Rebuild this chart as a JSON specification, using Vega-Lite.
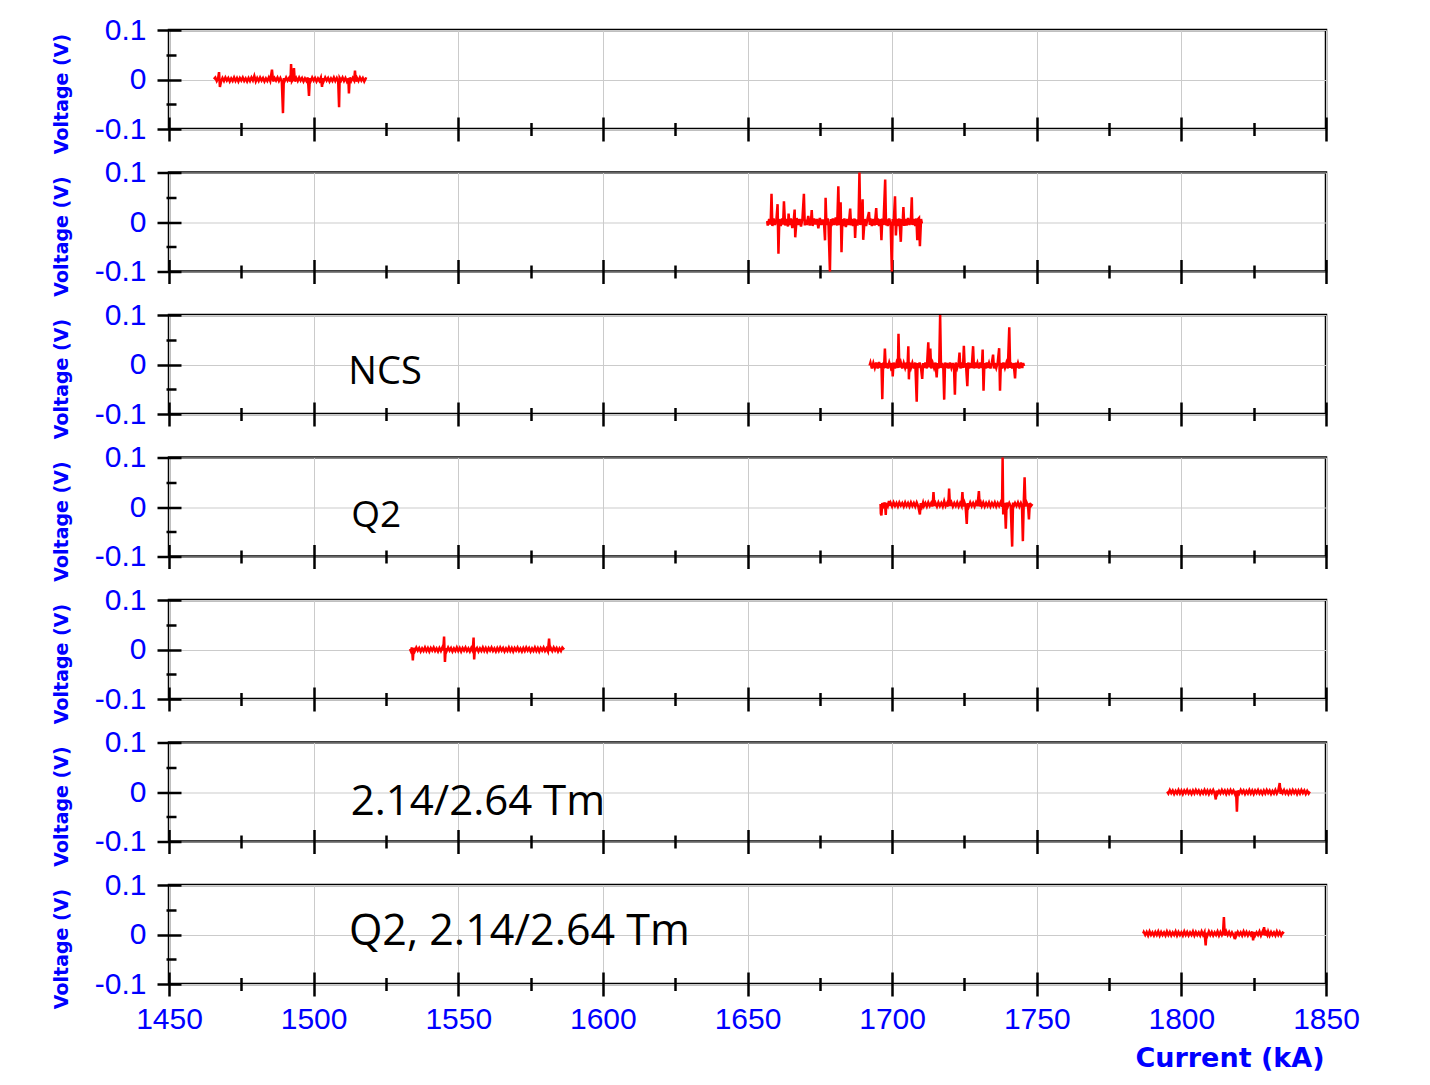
{
  "$schema": "https://vega.github.io/schema/vega-lite/v6.json",
  "background": "#ffffff",
  "padding": {"left": 51, "top": 13, "right": 20, "bottom": 10},
  "bounds": "flush",
  "spacing": 43.5,
  "config": {
    "view": {"stroke": "#000000", "strokeWidth": 2.5},
    "axis": {
      "domain": false,
      "grid": false,
      "tickColor": "#000000",
      "tickWidth": 2.5,
      "gridColor": "#cbcbcb",
      "gridWidth": 1,
      "labelFont": "Liberation Sans",
      "labelFontSize": 30,
      "labelColor": "#0000ff",
      "labelFlush": false,
      "titleColor": "#0000ff",
      "titleFont": "DejaVu Sans",
      "titleFontWeight": "bold"
    },
    "line": {"color": "#ff0000", "strokeWidth": 2.5, "clip": true},
    "text": {"font": "Open Sans", "color": "#000000", "align": "left", "baseline": "alphabetic"}
  },
  "datasets": {
    "labels": [
      {"panel": 3, "label": "NCS"},
      {"panel": 4, "label": "Q2"},
      {"panel": 6, "label": "2.14/2.64 Tm"},
      {"panel": 7, "label": "Q2, 2.14/2.64 Tm"}
    ],
    "trace": [
{"panel":1,"current":1465.5,"voltage":0.001},{"panel":1,"current":1466,"voltage":0.004},{"panel":1,"current":1466.5,"voltage":-0.003},{"panel":1,"current":1467,"voltage":0.003},{"panel":1,"current":1467.3,"voltage":0.015},{"panel":1,"current":1467.6,"voltage":-0.015},{"panel":1,"current":1468,"voltage":-0.004},{"panel":1,"current":1468.5,"voltage":0.003},{"panel":1,"current":1469,"voltage":-0.003},{"panel":1,"current":1469.5,"voltage":0.004},{"panel":1,"current":1470,"voltage":-0.002},{"panel":1,"current":1470.5,"voltage":0.003},{"panel":1,"current":1471,"voltage":-0.004},{"panel":1,"current":1471.5,"voltage":0.002},{"panel":1,"current":1472,"voltage":-0.003},{"panel":1,"current":1472.5,"voltage":0.004},{"panel":1,"current":1473,"voltage":-0.003},{"panel":1,"current":1473.5,"voltage":0.003},{"panel":1,"current":1474,"voltage":-0.004},{"panel":1,"current":1474.5,"voltage":0.003},{"panel":1,"current":1475,"voltage":-0.002},{"panel":1,"current":1475.5,"voltage":0.004},{"panel":1,"current":1476,"voltage":-0.003},{"panel":1,"current":1476.5,"voltage":0.002},{"panel":1,"current":1477,"voltage":-0.004},{"panel":1,"current":1477.5,"voltage":0.003},{"panel":1,"current":1478,"voltage":-0.003},{"panel":1,"current":1478.5,"voltage":0.004},{"panel":1,"current":1479,"voltage":-0.002},{"panel":1,"current":1479.5,"voltage":0.007},{"panel":1,"current":1480,"voltage":-0.004},{"panel":1,"current":1480.5,"voltage":0.003},{"panel":1,"current":1481,"voltage":-0.003},{"panel":1,"current":1481.5,"voltage":0.004},{"panel":1,"current":1482,"voltage":-0.002},{"panel":1,"current":1482.5,"voltage":0.003},{"panel":1,"current":1483,"voltage":-0.004},{"panel":1,"current":1483.5,"voltage":0.002},{"panel":1,"current":1484,"voltage":-0.003},{"panel":1,"current":1484.5,"voltage":0.004},{"panel":1,"current":1485,"voltage":-0.003},{"panel":1,"current":1485.6,"voltage":0.02},{"panel":1,"current":1486,"voltage":-0.004},{"panel":1,"current":1486.5,"voltage":0.003},{"panel":1,"current":1487,"voltage":-0.002},{"panel":1,"current":1487.5,"voltage":0.004},{"panel":1,"current":1488,"voltage":-0.003},{"panel":1,"current":1488.5,"voltage":0.003},{"panel":1,"current":1489,"voltage":-0.004},{"panel":1,"current":1489.4,"voltage":-0.068},{"panel":1,"current":1489.7,"voltage":0.003},{"panel":1,"current":1490,"voltage":-0.003},{"panel":1,"current":1490.5,"voltage":0.004},{"panel":1,"current":1491,"voltage":-0.002},{"panel":1,"current":1491.5,"voltage":0.003},{"panel":1,"current":1492,"voltage":-0.004},{"panel":1,"current":1492.2,"voltage":0.031},{"panel":1,"current":1492.5,"voltage":-0.003},{"panel":1,"current":1493,"voltage":0.002},{"panel":1,"current":1493.2,"voltage":0.023},{"panel":1,"current":1493.5,"voltage":-0.004},{"panel":1,"current":1494,"voltage":0.003},{"panel":1,"current":1494.5,"voltage":-0.003},{"panel":1,"current":1495,"voltage":0.004},{"panel":1,"current":1495.5,"voltage":-0.002},{"panel":1,"current":1496,"voltage":0.003},{"panel":1,"current":1496.5,"voltage":-0.004},{"panel":1,"current":1497,"voltage":0.002},{"panel":1,"current":1497.5,"voltage":-0.003},{"panel":1,"current":1498,"voltage":0.004},{"panel":1,"current":1498.4,"voltage":-0.033},{"panel":1,"current":1498.7,"voltage":0.003},{"panel":1,"current":1499,"voltage":-0.003},{"panel":1,"current":1499.5,"voltage":0.004},{"panel":1,"current":1500,"voltage":-0.002},{"panel":1,"current":1500.5,"voltage":0.003},{"panel":1,"current":1501,"voltage":-0.004},{"panel":1,"current":1501.5,"voltage":0.002},{"panel":1,"current":1502,"voltage":-0.003},{"panel":1,"current":1502.5,"voltage":0.004},{"panel":1,"current":1502.9,"voltage":-0.015},{"panel":1,"current":1503.2,"voltage":0.003},{"panel":1,"current":1503.5,"voltage":-0.003},{"panel":1,"current":1504,"voltage":0.004},{"panel":1,"current":1504.5,"voltage":-0.002},{"panel":1,"current":1505,"voltage":0.003},{"panel":1,"current":1505.5,"voltage":-0.004},{"panel":1,"current":1506,"voltage":0.002},{"panel":1,"current":1506.5,"voltage":-0.003},{"panel":1,"current":1507,"voltage":0.004},{"panel":1,"current":1507.5,"voltage":-0.003},{"panel":1,"current":1508,"voltage":0.003},{"panel":1,"current":1508.5,"voltage":-0.004},{"panel":1,"current":1508.8,"voltage":-0.056},{"panel":1,"current":1509,"voltage":0.003},{"panel":1,"current":1509.5,"voltage":-0.002},{"panel":1,"current":1510,"voltage":0.004},{"panel":1,"current":1510.5,"voltage":-0.003},{"panel":1,"current":1511,"voltage":0.003},{"panel":1,"current":1511.5,"voltage":-0.004},{"panel":1,"current":1512,"voltage":0.002},{"panel":1,"current":1512.2,"voltage":-0.028},{"panel":1,"current":1512.5,"voltage":0.004},{"panel":1,"current":1513,"voltage":-0.003},{"panel":1,"current":1513.5,"voltage":0.003},{"panel":1,"current":1514,"voltage":-0.002},{"panel":1,"current":1514.3,"voltage":0.018},{"panel":1,"current":1514.6,"voltage":-0.004},{"panel":1,"current":1515,"voltage":0.003},{"panel":1,"current":1515.5,"voltage":-0.003},{"panel":1,"current":1516,"voltage":0.004},{"panel":1,"current":1516.5,"voltage":-0.002},{"panel":1,"current":1517,"voltage":0.003},{"panel":1,"current":1517.5,"voltage":-0.004},{"panel":1,"current":1518,"voltage":0.002},{"panel":1,"current":1518.4,"voltage":0.001},

{"panel":2,"current":1656.8,"voltage":0.002},{"panel":2,"current":1657,"voltage":-0.007},{"panel":2,"current":1657.5,"voltage":0.006},{"panel":2,"current":1658,"voltage":-0.005},{"panel":2,"current":1658.3,"voltage":0.057},{"panel":2,"current":1658.6,"voltage":-0.008},{"panel":2,"current":1659,"voltage":0.007},{"panel":2,"current":1659.5,"voltage":-0.006},{"panel":2,"current":1660,"voltage":0.005},{"panel":2,"current":1660.4,"voltage":0.036},{"panel":2,"current":1660.7,"voltage":-0.064},{"panel":2,"current":1661,"voltage":0.006},{"panel":2,"current":1661.5,"voltage":-0.008},{"panel":2,"current":1662,"voltage":0.007},{"panel":2,"current":1662.3,"voltage":-0.005},{"panel":2,"current":1662.6,"voltage":0.042},{"panel":2,"current":1663,"voltage":-0.007},{"panel":2,"current":1663.5,"voltage":0.006},{"panel":2,"current":1664,"voltage":-0.009},{"panel":2,"current":1664.2,"voltage":0.017},{"panel":2,"current":1664.5,"voltage":-0.006},{"panel":2,"current":1665,"voltage":0.007},{"panel":2,"current":1665.5,"voltage":-0.012},{"panel":2,"current":1666,"voltage":0.005},{"panel":2,"current":1666.3,"voltage":0.025},{"panel":2,"current":1666.5,"voltage":-0.031},{"panel":2,"current":1667,"voltage":0.008},{"panel":2,"current":1667.5,"voltage":-0.006},{"panel":2,"current":1668,"voltage":0.006},{"panel":2,"current":1668.5,"voltage":-0.009},{"panel":2,"current":1669,"voltage":0.007},{"panel":2,"current":1669.5,"voltage":0.057},{"panel":2,"current":1669.8,"voltage":-0.007},{"panel":2,"current":1670,"voltage":0.005},{"panel":2,"current":1670.5,"voltage":-0.006},{"panel":2,"current":1671,"voltage":0.012},{"panel":2,"current":1671.5,"voltage":-0.007},{"panel":2,"current":1672,"voltage":0.006},{"panel":2,"current":1672.2,"voltage":0.024},{"panel":2,"current":1672.5,"voltage":-0.008},{"panel":2,"current":1673,"voltage":0.007},{"panel":2,"current":1673.5,"voltage":-0.005},{"panel":2,"current":1674,"voltage":0.006},{"panel":2,"current":1674.5,"voltage":-0.013},{"panel":2,"current":1675,"voltage":0.008},{"panel":2,"current":1675.5,"voltage":-0.006},{"panel":2,"current":1676,"voltage":0.005},{"panel":2,"current":1676.5,"voltage":-0.007},{"panel":2,"current":1676.8,"voltage":-0.037},{"panel":2,"current":1677,"voltage":0.049},{"panel":2,"current":1677.3,"voltage":-0.006},{"panel":2,"current":1677.7,"voltage":0.007},{"panel":2,"current":1678,"voltage":-0.005},{"panel":2,"current":1678.5,"voltage":-0.1},{"panel":2,"current":1678.8,"voltage":0.006},{"panel":2,"current":1679,"voltage":-0.008},{"panel":2,"current":1679.5,"voltage":0.007},{"panel":2,"current":1680,"voltage":-0.006},{"panel":2,"current":1680.5,"voltage":0.009},{"panel":2,"current":1681,"voltage":-0.007},{"panel":2,"current":1681.4,"voltage":0.072},{"panel":2,"current":1681.7,"voltage":-0.006},{"panel":2,"current":1682,"voltage":0.007},{"panel":2,"current":1682.2,"voltage":0.04},{"panel":2,"current":1682.5,"voltage":-0.061},{"panel":2,"current":1682.8,"voltage":0.006},{"panel":2,"current":1683,"voltage":-0.008},{"panel":2,"current":1683.5,"voltage":0.007},{"panel":2,"current":1684,"voltage":-0.01},{"panel":2,"current":1684.5,"voltage":0.006},{"panel":2,"current":1685,"voltage":-0.006},{"panel":2,"current":1685.5,"voltage":0.027},{"panel":2,"current":1685.8,"voltage":-0.007},{"panel":2,"current":1686,"voltage":0.006},{"panel":2,"current":1686.5,"voltage":-0.008},{"panel":2,"current":1687,"voltage":0.007},{"panel":2,"current":1687.2,"voltage":-0.032},{"panel":2,"current":1687.5,"voltage":0.005},{"panel":2,"current":1688,"voltage":-0.007},{"panel":2,"current":1688.4,"voltage":0.006},{"panel":2,"current":1688.7,"voltage":0.1},{"panel":2,"current":1689,"voltage":-0.006},{"panel":2,"current":1689.5,"voltage":0.008},{"panel":2,"current":1689.8,"voltage":0.046},{"panel":2,"current":1690,"voltage":-0.036},{"panel":2,"current":1690.5,"voltage":0.006},{"panel":2,"current":1691,"voltage":-0.008},{"panel":2,"current":1691.5,"voltage":0.007},{"panel":2,"current":1692,"voltage":0.02},{"panel":2,"current":1692.3,"voltage":-0.006},{"panel":2,"current":1692.5,"voltage":0.007},{"panel":2,"current":1693,"voltage":-0.008},{"panel":2,"current":1693.5,"voltage":0.006},{"panel":2,"current":1694,"voltage":-0.007},{"panel":2,"current":1694.5,"voltage":0.028},{"panel":2,"current":1694.8,"voltage":-0.006},{"panel":2,"current":1695,"voltage":0.007},{"panel":2,"current":1695.5,"voltage":-0.008},{"panel":2,"current":1696,"voltage":0.006},{"panel":2,"current":1696.3,"voltage":-0.037},{"panel":2,"current":1696.6,"voltage":0.007},{"panel":2,"current":1697,"voltage":-0.006},{"panel":2,"current":1697.6,"voltage":0.086},{"panel":2,"current":1697.9,"voltage":-0.007},{"panel":2,"current":1698,"voltage":0.006},{"panel":2,"current":1698.5,"voltage":-0.008},{"panel":2,"current":1699,"voltage":0.007},{"panel":2,"current":1699.5,"voltage":-0.006},{"panel":2,"current":1699.9,"voltage":-0.1},{"panel":2,"current":1700.2,"voltage":0.006},{"panel":2,"current":1700.5,"voltage":-0.007},{"panel":2,"current":1701,"voltage":0.052},{"panel":2,"current":1701.3,"voltage":-0.027},{"panel":2,"current":1701.6,"voltage":0.006},{"panel":2,"current":1702,"voltage":-0.008},{"panel":2,"current":1702.5,"voltage":0.007},{"panel":2,"current":1703,"voltage":-0.04},{"panel":2,"current":1703.3,"voltage":0.006},{"panel":2,"current":1703.6,"voltage":-0.007},{"panel":2,"current":1703.9,"voltage":0.03},{"panel":2,"current":1704.2,"voltage":-0.008},{"panel":2,"current":1704.5,"voltage":0.006},{"panel":2,"current":1705,"voltage":-0.007},{"panel":2,"current":1705.5,"voltage":0.008},{"panel":2,"current":1706,"voltage":-0.006},{"panel":2,"current":1706.5,"voltage":0.007},{"panel":2,"current":1706.8,"voltage":0.05},{"panel":2,"current":1707,"voltage":-0.006},{"panel":2,"current":1707.5,"voltage":0.006},{"panel":2,"current":1708,"voltage":-0.008},{"panel":2,"current":1708.4,"voltage":0.007},{"panel":2,"current":1708.7,"voltage":-0.037},{"panel":2,"current":1709,"voltage":0.006},{"panel":2,"current":1709.3,"voltage":0.008},{"panel":2,"current":1709.6,"voltage":-0.049},{"panel":2,"current":1710,"voltage":0.006},{"panel":2,"current":1710.3,"voltage":-0.003},

{"panel":3,"current":1692.2,"voltage":-0.002},{"panel":3,"current":1692.5,"voltage":0.004},{"panel":3,"current":1693,"voltage":-0.008},{"panel":3,"current":1693.5,"voltage":0.003},{"panel":3,"current":1694,"voltage":-0.007},{"panel":3,"current":1694.5,"voltage":0.004},{"panel":3,"current":1695,"voltage":-0.008},{"panel":3,"current":1695.5,"voltage":0.005},{"panel":3,"current":1696,"voltage":-0.007},{"panel":3,"current":1696.3,"voltage":0.003},{"panel":3,"current":1696.6,"voltage":-0.07},{"panel":3,"current":1696.9,"voltage":0.004},{"panel":3,"current":1697.2,"voltage":-0.008},{"panel":3,"current":1697.5,"voltage":0.032},{"panel":3,"current":1697.8,"voltage":-0.007},{"panel":3,"current":1698,"voltage":0.003},{"panel":3,"current":1698.5,"voltage":-0.008},{"panel":3,"current":1699,"voltage":0.004},{"panel":3,"current":1699.5,"voltage":-0.006},{"panel":3,"current":1700,"voltage":0.003},{"panel":3,"current":1700.2,"voltage":-0.024},{"panel":3,"current":1700.5,"voltage":0.004},{"panel":3,"current":1701,"voltage":-0.008},{"panel":3,"current":1701.5,"voltage":0.003},{"panel":3,"current":1702,"voltage":-0.007},{"panel":3,"current":1702.2,"voltage":0.062},{"panel":3,"current":1702.5,"voltage":-0.006},{"panel":3,"current":1703,"voltage":0.004},{"panel":3,"current":1703.5,"voltage":-0.008},{"panel":3,"current":1704,"voltage":0.003},{"panel":3,"current":1704.5,"voltage":-0.007},{"panel":3,"current":1705,"voltage":0.004},{"panel":3,"current":1705.3,"voltage":-0.008},{"panel":3,"current":1705.6,"voltage":0.037},{"panel":3,"current":1705.8,"voltage":-0.03},{"panel":3,"current":1706,"voltage":0.004},{"panel":3,"current":1706.5,"voltage":-0.007},{"panel":3,"current":1707,"voltage":0.003},{"panel":3,"current":1707.5,"voltage":-0.008},{"panel":3,"current":1708,"voltage":0.004},{"panel":3,"current":1708.5,"voltage":-0.075},{"panel":3,"current":1708.8,"voltage":0.003},{"panel":3,"current":1709,"voltage":-0.007},{"panel":3,"current":1709.5,"voltage":0.004},{"panel":3,"current":1710,"voltage":-0.008},{"panel":3,"current":1710.4,"voltage":-0.029},{"panel":3,"current":1710.7,"voltage":0.003},{"panel":3,"current":1711,"voltage":-0.007},{"panel":3,"current":1711.5,"voltage":0.004},{"panel":3,"current":1712,"voltage":-0.008},{"panel":3,"current":1712.5,"voltage":0.045},{"panel":3,"current":1712.8,"voltage":-0.006},{"panel":3,"current":1713.2,"voltage":0.032},{"panel":3,"current":1713.5,"voltage":-0.008},{"panel":3,"current":1714,"voltage":0.003},{"panel":3,"current":1714.5,"voltage":-0.007},{"panel":3,"current":1715,"voltage":0.004},{"panel":3,"current":1715.4,"voltage":-0.026},{"panel":3,"current":1715.7,"voltage":0.003},{"panel":3,"current":1716,"voltage":-0.008},{"panel":3,"current":1716.3,"voltage":0.004},{"panel":3,"current":1716.6,"voltage":0.1},{"panel":3,"current":1716.9,"voltage":-0.007},{"panel":3,"current":1717.3,"voltage":0.003},{"panel":3,"current":1717.7,"voltage":-0.008},{"panel":3,"current":1718,"voltage":-0.071},{"panel":3,"current":1718.3,"voltage":0.004},{"panel":3,"current":1718.6,"voltage":-0.007},{"panel":3,"current":1719,"voltage":0.003},{"panel":3,"current":1719.5,"voltage":-0.008},{"panel":3,"current":1720,"voltage":0.004},{"panel":3,"current":1720.5,"voltage":-0.007},{"panel":3,"current":1721,"voltage":0.003},{"panel":3,"current":1721.4,"voltage":-0.008},{"panel":3,"current":1721.7,"voltage":-0.061},{"panel":3,"current":1722,"voltage":0.004},{"panel":3,"current":1722.5,"voltage":-0.007},{"panel":3,"current":1723,"voltage":0.003},{"panel":3,"current":1723.3,"voltage":0.024},{"panel":3,"current":1723.6,"voltage":-0.008},{"panel":3,"current":1724,"voltage":0.004},{"panel":3,"current":1724.5,"voltage":-0.007},{"panel":3,"current":1724.8,"voltage":0.038},{"panel":3,"current":1725.1,"voltage":-0.006},{"panel":3,"current":1725.5,"voltage":0.003},{"panel":3,"current":1726,"voltage":-0.044},{"panel":3,"current":1726.3,"voltage":0.004},{"panel":3,"current":1726.6,"voltage":-0.008},{"panel":3,"current":1727,"voltage":0.003},{"panel":3,"current":1727.5,"voltage":-0.007},{"panel":3,"current":1728,"voltage":0.037},{"panel":3,"current":1728.3,"voltage":-0.008},{"panel":3,"current":1728.6,"voltage":0.004},{"panel":3,"current":1729,"voltage":-0.007},{"panel":3,"current":1729.5,"voltage":0.003},{"panel":3,"current":1730,"voltage":-0.008},{"panel":3,"current":1730.5,"voltage":0.004},{"panel":3,"current":1731,"voltage":-0.007},{"panel":3,"current":1731.3,"voltage":0.03},{"panel":3,"current":1731.6,"voltage":-0.053},{"panel":3,"current":1731.9,"voltage":0.003},{"panel":3,"current":1732.3,"voltage":-0.008},{"panel":3,"current":1732.7,"voltage":0.004},{"panel":3,"current":1733,"voltage":-0.007},{"panel":3,"current":1733.5,"voltage":0.003},{"panel":3,"current":1734,"voltage":-0.008},{"panel":3,"current":1734.5,"voltage":0.004},{"panel":3,"current":1734.9,"voltage":0.02},{"panel":3,"current":1735.2,"voltage":-0.008},{"panel":3,"current":1735.5,"voltage":0.003},{"panel":3,"current":1736,"voltage":-0.007},{"panel":3,"current":1736.5,"voltage":0.004},{"panel":3,"current":1737,"voltage":0.033},{"panel":3,"current":1737.3,"voltage":-0.053},{"panel":3,"current":1737.6,"voltage":0.003},{"panel":3,"current":1738,"voltage":-0.008},{"panel":3,"current":1738.5,"voltage":0.004},{"panel":3,"current":1739,"voltage":-0.007},{"panel":3,"current":1739.5,"voltage":0.003},{"panel":3,"current":1740,"voltage":-0.008},{"panel":3,"current":1740.5,"voltage":0.075},{"panel":3,"current":1740.8,"voltage":-0.007},{"panel":3,"current":1741,"voltage":0.004},{"panel":3,"current":1741.5,"voltage":-0.008},{"panel":3,"current":1742,"voltage":0.003},{"panel":3,"current":1742.5,"voltage":-0.028},{"panel":3,"current":1742.8,"voltage":0.004},{"panel":3,"current":1743,"voltage":-0.007},{"panel":3,"current":1743.5,"voltage":0.003},{"panel":3,"current":1744,"voltage":-0.008},{"panel":3,"current":1744.5,"voltage":0.004},{"panel":3,"current":1745,"voltage":-0.007},{"panel":3,"current":1745.3,"voltage":0.003},{"panel":3,"current":1745.6,"voltage":-0.003},

{"panel":4,"current":1696,"voltage":0.006},{"panel":4,"current":1696.1,"voltage":-0.013},{"panel":4,"current":1696.3,"voltage":-0.017},{"panel":4,"current":1696.6,"voltage":0.008},{"panel":4,"current":1697,"voltage":0.002},{"panel":4,"current":1697.5,"voltage":0.009},{"panel":4,"current":1697.8,"voltage":-0.016},{"panel":4,"current":1698,"voltage":0.008},{"panel":4,"current":1698.5,"voltage":0.002},{"panel":4,"current":1698.9,"voltage":0.012},{"panel":4,"current":1699.2,"voltage":0.002},{"panel":4,"current":1699.5,"voltage":0.008},{"panel":4,"current":1700,"voltage":0.001},{"panel":4,"current":1700.5,"voltage":0.009},{"panel":4,"current":1701,"voltage":0.002},{"panel":4,"current":1701.5,"voltage":0.008},{"panel":4,"current":1702,"voltage":0.001},{"panel":4,"current":1702.5,"voltage":0.009},{"panel":4,"current":1703,"voltage":0.003},{"panel":4,"current":1703.5,"voltage":0.008},{"panel":4,"current":1704,"voltage":0.001},{"panel":4,"current":1704.5,"voltage":0.009},{"panel":4,"current":1705,"voltage":0.002},{"panel":4,"current":1705.5,"voltage":0.008},{"panel":4,"current":1706,"voltage":0.001},{"panel":4,"current":1706.5,"voltage":0.009},{"panel":4,"current":1707,"voltage":0.002},{"panel":4,"current":1707.5,"voltage":0.008},{"panel":4,"current":1708,"voltage":0.001},{"panel":4,"current":1708.5,"voltage":0.009},{"panel":4,"current":1709,"voltage":0.002},{"panel":4,"current":1709.6,"voltage":-0.015},{"panel":4,"current":1709.9,"voltage":0.008},{"panel":4,"current":1710.3,"voltage":0.001},{"panel":4,"current":1710.7,"voltage":0.009},{"panel":4,"current":1711,"voltage":0.002},{"panel":4,"current":1711.5,"voltage":0.008},{"panel":4,"current":1712,"voltage":0.001},{"panel":4,"current":1712.5,"voltage":0.009},{"panel":4,"current":1713,"voltage":0.002},{"panel":4,"current":1713.5,"voltage":0.008},{"panel":4,"current":1714,"voltage":0.001},{"panel":4,"current":1714.3,"voltage":0.03},{"panel":4,"current":1714.6,"voltage":0.002},{"panel":4,"current":1715,"voltage":0.008},{"panel":4,"current":1715.5,"voltage":0.001},{"panel":4,"current":1716,"voltage":0.009},{"panel":4,"current":1716.5,"voltage":0.002},{"panel":4,"current":1717,"voltage":0.008},{"panel":4,"current":1717.5,"voltage":0.001},{"panel":4,"current":1718,"voltage":0.012},{"panel":4,"current":1718.5,"voltage":0.002},{"panel":4,"current":1719,"voltage":0.008},{"panel":4,"current":1719.4,"voltage":0.001},{"panel":4,"current":1719.7,"voltage":0.037},{"panel":4,"current":1720,"voltage":0.002},{"panel":4,"current":1720.5,"voltage":0.009},{"panel":4,"current":1721,"voltage":0.001},{"panel":4,"current":1721.5,"voltage":0.008},{"panel":4,"current":1722,"voltage":0.002},{"panel":4,"current":1722.5,"voltage":0.009},{"panel":4,"current":1723,"voltage":0.001},{"panel":4,"current":1723.5,"voltage":0.008},{"panel":4,"current":1724,"voltage":0.002},{"panel":4,"current":1724.3,"voltage":0.03},{"panel":4,"current":1724.6,"voltage":0.001},{"panel":4,"current":1725,"voltage":0.009},{"panel":4,"current":1725.4,"voltage":0.002},{"panel":4,"current":1725.8,"voltage":-0.034},{"panel":4,"current":1726.1,"voltage":0.008},{"panel":4,"current":1726.5,"voltage":0.001},{"panel":4,"current":1727,"voltage":0.009},{"panel":4,"current":1727.5,"voltage":0.002},{"panel":4,"current":1728,"voltage":0.008},{"panel":4,"current":1728.5,"voltage":0.001},{"panel":4,"current":1729,"voltage":0.009},{"panel":4,"current":1729.5,"voltage":0.002},{"panel":4,"current":1730,"voltage":0.032},{"panel":4,"current":1730.3,"voltage":0.001},{"panel":4,"current":1730.7,"voltage":0.008},{"panel":4,"current":1731,"voltage":0.002},{"panel":4,"current":1731.5,"voltage":0.009},{"panel":4,"current":1732,"voltage":0.001},{"panel":4,"current":1732.5,"voltage":0.008},{"panel":4,"current":1733,"voltage":0.002},{"panel":4,"current":1733.5,"voltage":0.009},{"panel":4,"current":1734,"voltage":0.001},{"panel":4,"current":1734.5,"voltage":0.008},{"panel":4,"current":1735,"voltage":0.002},{"panel":4,"current":1735.5,"voltage":0.009},{"panel":4,"current":1736,"voltage":0.001},{"panel":4,"current":1736.5,"voltage":0.008},{"panel":4,"current":1737,"voltage":0.002},{"panel":4,"current":1737.5,"voltage":0.009},{"panel":4,"current":1738,"voltage":0.001},{"panel":4,"current":1738.2,"voltage":0.1},{"panel":4,"current":1738.4,"voltage":-0.015},{"panel":4,"current":1738.7,"voltage":0.008},{"panel":4,"current":1739,"voltage":0.002},{"panel":4,"current":1739.3,"voltage":-0.044},{"panel":4,"current":1739.6,"voltage":0.009},{"panel":4,"current":1740,"voltage":0.001},{"panel":4,"current":1740.5,"voltage":0.008},{"panel":4,"current":1741,"voltage":0.002},{"panel":4,"current":1741.5,"voltage":-0.08},{"panel":4,"current":1741.8,"voltage":0.009},{"panel":4,"current":1742,"voltage":0.001},{"panel":4,"current":1742.5,"voltage":0.008},{"panel":4,"current":1743,"voltage":0.002},{"panel":4,"current":1743.5,"voltage":0.009},{"panel":4,"current":1744,"voltage":0.001},{"panel":4,"current":1744.5,"voltage":0.008},{"panel":4,"current":1744.9,"voltage":0.002},{"panel":4,"current":1745.2,"voltage":-0.069},{"panel":4,"current":1745.5,"voltage":0.008},{"panel":4,"current":1745.8,"voltage":0.06},{"panel":4,"current":1746.1,"voltage":0.001},{"panel":4,"current":1746.5,"voltage":0.009},{"panel":4,"current":1747,"voltage":0.002},{"panel":4,"current":1747.3,"voltage":-0.025},{"panel":4,"current":1747.6,"voltage":0.008},{"panel":4,"current":1748,"voltage":0.002},{"panel":4,"current":1748.5,"voltage":0.006},

{"panel":5,"current":1533.3,"voltage":0.001},{"panel":5,"current":1533.6,"voltage":-0.003},{"panel":5,"current":1534,"voltage":0.004},{"panel":5,"current":1534.3,"voltage":-0.022},{"panel":5,"current":1534.6,"voltage":0.003},{"panel":5,"current":1535,"voltage":-0.003},{"panel":5,"current":1535.5,"voltage":0.004},{"panel":5,"current":1536,"voltage":-0.002},{"panel":5,"current":1536.5,"voltage":0.003},{"panel":5,"current":1537,"voltage":-0.004},{"panel":5,"current":1537.5,"voltage":0.002},{"panel":5,"current":1538,"voltage":-0.003},{"panel":5,"current":1538.5,"voltage":0.004},{"panel":5,"current":1539,"voltage":-0.003},{"panel":5,"current":1539.5,"voltage":0.003},{"panel":5,"current":1540,"voltage":-0.004},{"panel":5,"current":1540.5,"voltage":0.003},{"panel":5,"current":1541,"voltage":-0.002},{"panel":5,"current":1541.5,"voltage":0.004},{"panel":5,"current":1542,"voltage":-0.003},{"panel":5,"current":1542.5,"voltage":0.002},{"panel":5,"current":1543,"voltage":-0.004},{"panel":5,"current":1543.5,"voltage":0.003},{"panel":5,"current":1544,"voltage":-0.003},{"panel":5,"current":1544.5,"voltage":0.004},{"panel":5,"current":1544.8,"voltage":-0.002},{"panel":5,"current":1545.1,"voltage":0.026},{"panel":5,"current":1545.4,"voltage":-0.025},{"panel":5,"current":1545.7,"voltage":0.003},{"panel":5,"current":1546,"voltage":-0.003},{"panel":5,"current":1546.5,"voltage":0.004},{"panel":5,"current":1547,"voltage":-0.002},{"panel":5,"current":1547.5,"voltage":0.003},{"panel":5,"current":1548,"voltage":-0.004},{"panel":5,"current":1548.5,"voltage":0.002},{"panel":5,"current":1549,"voltage":-0.003},{"panel":5,"current":1549.5,"voltage":0.004},{"panel":5,"current":1550,"voltage":-0.003},{"panel":5,"current":1550.5,"voltage":0.003},{"panel":5,"current":1551,"voltage":-0.004},{"panel":5,"current":1551.5,"voltage":0.003},{"panel":5,"current":1552,"voltage":-0.002},{"panel":5,"current":1552.5,"voltage":0.004},{"panel":5,"current":1553,"voltage":-0.003},{"panel":5,"current":1553.5,"voltage":0.002},{"panel":5,"current":1554,"voltage":-0.004},{"panel":5,"current":1554.5,"voltage":0.003},{"panel":5,"current":1555,"voltage":-0.003},{"panel":5,"current":1555.3,"voltage":0.024},{"panel":5,"current":1555.5,"voltage":-0.02},{"panel":5,"current":1555.8,"voltage":0.004},{"panel":5,"current":1556,"voltage":-0.002},{"panel":5,"current":1556.5,"voltage":0.003},{"panel":5,"current":1557,"voltage":-0.004},{"panel":5,"current":1557.5,"voltage":0.002},{"panel":5,"current":1558,"voltage":-0.003},{"panel":5,"current":1558.5,"voltage":0.004},{"panel":5,"current":1559,"voltage":-0.003},{"panel":5,"current":1559.5,"voltage":0.003},{"panel":5,"current":1560,"voltage":-0.004},{"panel":5,"current":1560.5,"voltage":0.003},{"panel":5,"current":1561,"voltage":-0.002},{"panel":5,"current":1561.5,"voltage":0.004},{"panel":5,"current":1562,"voltage":-0.003},{"panel":5,"current":1562.5,"voltage":0.002},{"panel":5,"current":1563,"voltage":-0.004},{"panel":5,"current":1563.5,"voltage":0.003},{"panel":5,"current":1564,"voltage":-0.003},{"panel":5,"current":1564.5,"voltage":0.004},{"panel":5,"current":1565,"voltage":-0.002},{"panel":5,"current":1565.5,"voltage":0.003},{"panel":5,"current":1566,"voltage":-0.004},{"panel":5,"current":1566.5,"voltage":0.002},{"panel":5,"current":1567,"voltage":-0.003},{"panel":5,"current":1567.5,"voltage":0.004},{"panel":5,"current":1568,"voltage":-0.003},{"panel":5,"current":1568.5,"voltage":0.003},{"panel":5,"current":1569,"voltage":-0.004},{"panel":5,"current":1569.5,"voltage":0.003},{"panel":5,"current":1570,"voltage":-0.002},{"panel":5,"current":1570.5,"voltage":0.004},{"panel":5,"current":1571,"voltage":-0.003},{"panel":5,"current":1571.5,"voltage":0.002},{"panel":5,"current":1572,"voltage":-0.004},{"panel":5,"current":1572.5,"voltage":0.003},{"panel":5,"current":1573,"voltage":-0.003},{"panel":5,"current":1573.5,"voltage":0.004},{"panel":5,"current":1574,"voltage":-0.002},{"panel":5,"current":1574.5,"voltage":0.003},{"panel":5,"current":1575,"voltage":-0.004},{"panel":5,"current":1575.5,"voltage":0.002},{"panel":5,"current":1576,"voltage":-0.003},{"panel":5,"current":1576.5,"voltage":0.004},{"panel":5,"current":1577,"voltage":-0.003},{"panel":5,"current":1577.5,"voltage":0.003},{"panel":5,"current":1578,"voltage":-0.004},{"panel":5,"current":1578.5,"voltage":0.003},{"panel":5,"current":1579,"voltage":-0.002},{"panel":5,"current":1579.5,"voltage":0.004},{"panel":5,"current":1580,"voltage":-0.003},{"panel":5,"current":1580.5,"voltage":0.002},{"panel":5,"current":1581,"voltage":-0.004},{"panel":5,"current":1581.4,"voltage":0.022},{"panel":5,"current":1581.7,"voltage":-0.003},{"panel":5,"current":1582,"voltage":0.003},{"panel":5,"current":1582.5,"voltage":-0.003},{"panel":5,"current":1583,"voltage":0.004},{"panel":5,"current":1583.5,"voltage":-0.002},{"panel":5,"current":1584,"voltage":0.003},{"panel":5,"current":1584.5,"voltage":-0.004},{"panel":5,"current":1585,"voltage":0.002},{"panel":5,"current":1585.5,"voltage":-0.003},{"panel":5,"current":1586,"voltage":0.004},{"panel":5,"current":1586.6,"voltage":0.0},

{"panel":6,"current":1795.1,"voltage":0.001},{"panel":6,"current":1795.5,"voltage":-0.003},{"panel":6,"current":1796,"voltage":0.004},{"panel":6,"current":1796.5,"voltage":-0.002},{"panel":6,"current":1797,"voltage":0.003},{"panel":6,"current":1797.5,"voltage":-0.004},{"panel":6,"current":1798,"voltage":0.002},{"panel":6,"current":1798.5,"voltage":-0.003},{"panel":6,"current":1799,"voltage":0.004},{"panel":6,"current":1799.5,"voltage":-0.003},{"panel":6,"current":1800,"voltage":0.003},{"panel":6,"current":1800.5,"voltage":-0.004},{"panel":6,"current":1801,"voltage":0.003},{"panel":6,"current":1801.5,"voltage":-0.002},{"panel":6,"current":1802,"voltage":0.004},{"panel":6,"current":1802.5,"voltage":-0.003},{"panel":6,"current":1803,"voltage":0.002},{"panel":6,"current":1803.5,"voltage":-0.004},{"panel":6,"current":1804,"voltage":0.003},{"panel":6,"current":1804.5,"voltage":-0.003},{"panel":6,"current":1805,"voltage":0.004},{"panel":6,"current":1805.5,"voltage":-0.002},{"panel":6,"current":1806,"voltage":0.003},{"panel":6,"current":1806.5,"voltage":-0.004},{"panel":6,"current":1807,"voltage":0.002},{"panel":6,"current":1807.5,"voltage":-0.003},{"panel":6,"current":1808,"voltage":0.004},{"panel":6,"current":1808.5,"voltage":-0.003},{"panel":6,"current":1809,"voltage":0.003},{"panel":6,"current":1809.5,"voltage":-0.004},{"panel":6,"current":1810,"voltage":0.003},{"panel":6,"current":1810.5,"voltage":-0.002},{"panel":6,"current":1811,"voltage":0.004},{"panel":6,"current":1811.5,"voltage":-0.003},{"panel":6,"current":1811.9,"voltage":-0.015},{"panel":6,"current":1812.2,"voltage":0.003},{"panel":6,"current":1812.5,"voltage":-0.004},{"panel":6,"current":1813,"voltage":0.002},{"panel":6,"current":1813.5,"voltage":-0.003},{"panel":6,"current":1814,"voltage":0.004},{"panel":6,"current":1814.5,"voltage":-0.002},{"panel":6,"current":1815,"voltage":0.003},{"panel":6,"current":1815.5,"voltage":-0.004},{"panel":6,"current":1816,"voltage":0.003},{"panel":6,"current":1816.5,"voltage":-0.003},{"panel":6,"current":1817,"voltage":0.004},{"panel":6,"current":1817.5,"voltage":-0.002},{"panel":6,"current":1818,"voltage":0.003},{"panel":6,"current":1818.5,"voltage":-0.004},{"panel":6,"current":1818.9,"voltage":0.002},{"panel":6,"current":1819.2,"voltage":-0.04},{"panel":6,"current":1819.5,"voltage":0.003},{"panel":6,"current":1820,"voltage":-0.003},{"panel":6,"current":1820.5,"voltage":0.004},{"panel":6,"current":1821,"voltage":-0.002},{"panel":6,"current":1821.5,"voltage":0.003},{"panel":6,"current":1822,"voltage":-0.004},{"panel":6,"current":1822.5,"voltage":0.002},{"panel":6,"current":1823,"voltage":-0.003},{"panel":6,"current":1823.5,"voltage":0.004},{"panel":6,"current":1824,"voltage":-0.003},{"panel":6,"current":1824.5,"voltage":0.003},{"panel":6,"current":1825,"voltage":-0.004},{"panel":6,"current":1825.5,"voltage":0.003},{"panel":6,"current":1826,"voltage":-0.002},{"panel":6,"current":1826.5,"voltage":0.004},{"panel":6,"current":1827,"voltage":-0.003},{"panel":6,"current":1827.5,"voltage":0.002},{"panel":6,"current":1828,"voltage":-0.004},{"panel":6,"current":1828.5,"voltage":0.003},{"panel":6,"current":1829,"voltage":-0.003},{"panel":6,"current":1829.5,"voltage":0.004},{"panel":6,"current":1830,"voltage":-0.002},{"panel":6,"current":1830.5,"voltage":0.003},{"panel":6,"current":1831,"voltage":-0.004},{"panel":6,"current":1831.5,"voltage":0.002},{"panel":6,"current":1832,"voltage":-0.003},{"panel":6,"current":1832.5,"voltage":0.004},{"panel":6,"current":1833,"voltage":-0.003},{"panel":6,"current":1833.5,"voltage":0.003},{"panel":6,"current":1834,"voltage":0.018},{"panel":6,"current":1834.3,"voltage":-0.004},{"panel":6,"current":1834.6,"voltage":0.003},{"panel":6,"current":1835,"voltage":-0.002},{"panel":6,"current":1835.5,"voltage":0.004},{"panel":6,"current":1836,"voltage":-0.003},{"panel":6,"current":1836.5,"voltage":0.002},{"panel":6,"current":1837,"voltage":-0.004},{"panel":6,"current":1837.5,"voltage":0.003},{"panel":6,"current":1838,"voltage":-0.003},{"panel":6,"current":1838.5,"voltage":0.004},{"panel":6,"current":1839,"voltage":-0.002},{"panel":6,"current":1839.5,"voltage":0.003},{"panel":6,"current":1840,"voltage":-0.004},{"panel":6,"current":1840.5,"voltage":0.003},{"panel":6,"current":1841,"voltage":-0.003},{"panel":6,"current":1841.5,"voltage":0.004},{"panel":6,"current":1842,"voltage":-0.002},{"panel":6,"current":1842.5,"voltage":0.003},{"panel":6,"current":1843,"voltage":-0.004},{"panel":6,"current":1843.5,"voltage":0.002},{"panel":6,"current":1844,"voltage":-0.003},{"panel":6,"current":1844.4,"voltage":0.001},

{"panel":7,"current":1786.8,"voltage":0.002},{"panel":7,"current":1787,"voltage":0.005},{"panel":7,"current":1787.5,"voltage":-0.001},{"panel":7,"current":1788,"voltage":0.005},{"panel":7,"current":1788.5,"voltage":-0.002},{"panel":7,"current":1789,"voltage":0.006},{"panel":7,"current":1789.5,"voltage":-0.001},{"panel":7,"current":1790,"voltage":0.004},{"panel":7,"current":1790.5,"voltage":-0.002},{"panel":7,"current":1791,"voltage":0.005},{"panel":7,"current":1791.5,"voltage":-0.001},{"panel":7,"current":1792,"voltage":0.006},{"panel":7,"current":1792.5,"voltage":-0.002},{"panel":7,"current":1793,"voltage":0.005},{"panel":7,"current":1793.5,"voltage":-0.001},{"panel":7,"current":1794,"voltage":0.004},{"panel":7,"current":1794.5,"voltage":-0.002},{"panel":7,"current":1795,"voltage":0.006},{"panel":7,"current":1795.5,"voltage":-0.001},{"panel":7,"current":1796,"voltage":0.005},{"panel":7,"current":1796.5,"voltage":-0.002},{"panel":7,"current":1797,"voltage":0.004},{"panel":7,"current":1797.5,"voltage":-0.001},{"panel":7,"current":1798,"voltage":0.006},{"panel":7,"current":1798.5,"voltage":-0.002},{"panel":7,"current":1799,"voltage":0.005},{"panel":7,"current":1799.5,"voltage":-0.001},{"panel":7,"current":1800,"voltage":0.004},{"panel":7,"current":1800.5,"voltage":-0.002},{"panel":7,"current":1801,"voltage":0.006},{"panel":7,"current":1801.5,"voltage":-0.001},{"panel":7,"current":1802,"voltage":0.005},{"panel":7,"current":1802.5,"voltage":-0.002},{"panel":7,"current":1803,"voltage":0.004},{"panel":7,"current":1803.5,"voltage":-0.001},{"panel":7,"current":1804,"voltage":0.006},{"panel":7,"current":1804.5,"voltage":-0.002},{"panel":7,"current":1805,"voltage":0.005},{"panel":7,"current":1805.5,"voltage":-0.001},{"panel":7,"current":1806,"voltage":0.004},{"panel":7,"current":1806.5,"voltage":-0.002},{"panel":7,"current":1807,"voltage":0.006},{"panel":7,"current":1807.5,"voltage":-0.001},{"panel":7,"current":1808,"voltage":0.005},{"panel":7,"current":1808.4,"voltage":-0.022},{"panel":7,"current":1808.7,"voltage":0.004},{"panel":7,"current":1809,"voltage":-0.002},{"panel":7,"current":1809.5,"voltage":0.006},{"panel":7,"current":1810,"voltage":-0.001},{"panel":7,"current":1810.5,"voltage":0.005},{"panel":7,"current":1811,"voltage":-0.002},{"panel":7,"current":1811.5,"voltage":0.004},{"panel":7,"current":1812,"voltage":-0.001},{"panel":7,"current":1812.5,"voltage":0.006},{"panel":7,"current":1813,"voltage":-0.002},{"panel":7,"current":1813.5,"voltage":0.005},{"panel":7,"current":1814,"voltage":-0.001},{"panel":7,"current":1814.4,"voltage":0.004},{"panel":7,"current":1814.7,"voltage":0.035},{"panel":7,"current":1815,"voltage":-0.002},{"panel":7,"current":1815.5,"voltage":0.006},{"panel":7,"current":1816,"voltage":-0.001},{"panel":7,"current":1816.5,"voltage":0.005},{"panel":7,"current":1817,"voltage":-0.002},{"panel":7,"current":1817.5,"voltage":0.004},{"panel":7,"current":1818,"voltage":-0.001},{"panel":7,"current":1818.5,"voltage":-0.009},{"panel":7,"current":1818.8,"voltage":0.006},{"panel":7,"current":1819,"voltage":-0.002},{"panel":7,"current":1819.5,"voltage":0.005},{"panel":7,"current":1820,"voltage":-0.001},{"panel":7,"current":1820.5,"voltage":0.004},{"panel":7,"current":1821,"voltage":-0.002},{"panel":7,"current":1821.5,"voltage":0.006},{"panel":7,"current":1822,"voltage":-0.001},{"panel":7,"current":1822.5,"voltage":0.005},{"panel":7,"current":1823,"voltage":-0.002},{"panel":7,"current":1823.5,"voltage":0.004},{"panel":7,"current":1824,"voltage":-0.001},{"panel":7,"current":1824.5,"voltage":0.006},{"panel":7,"current":1824.8,"voltage":-0.012},{"panel":7,"current":1825.1,"voltage":0.005},{"panel":7,"current":1825.5,"voltage":-0.002},{"panel":7,"current":1826,"voltage":0.004},{"panel":7,"current":1826.5,"voltage":-0.001},{"panel":7,"current":1827,"voltage":0.006},{"panel":7,"current":1827.5,"voltage":-0.002},{"panel":7,"current":1828,"voltage":0.005},{"panel":7,"current":1828.3,"voltage":-0.001},{"panel":7,"current":1828.6,"voltage":0.015},{"panel":7,"current":1828.9,"voltage":-0.002},{"panel":7,"current":1829.3,"voltage":0.004},{"panel":7,"current":1829.7,"voltage":-0.001},{"panel":7,"current":1830,"voltage":0.006},{"panel":7,"current":1830.5,"voltage":-0.002},{"panel":7,"current":1831,"voltage":0.005},{"panel":7,"current":1831.5,"voltage":-0.001},{"panel":7,"current":1832,"voltage":0.004},{"panel":7,"current":1832.5,"voltage":-0.002},{"panel":7,"current":1833,"voltage":0.006},{"panel":7,"current":1833.5,"voltage":-0.001},{"panel":7,"current":1834,"voltage":0.005},{"panel":7,"current":1834.5,"voltage":-0.002},{"panel":7,"current":1835,"voltage":0.004},{"panel":7,"current":1835.5,"voltage":0.002}
    ]
  },
  "vconcat": [
    {
      "width": 1157, "height": 99,
      "layer": [
        {
          "data": {"name": "trace"},
          "transform": [{"filter": "datum.panel === 1"}],
          "mark": {"type": "line"},
          "encoding": {
            "x": {"field": "current", "type": "quantitative", "scale": {"domain": [1450, 1850], "nice": false},
                  "axis": {"values": [1450, 1500, 1550, 1600, 1650, 1700, 1750, 1800, 1850], "offset": -12, "tickSize": 24, "grid": true, "labels": false, "title": null}},
            "y": {"field": "voltage", "type": "quantitative", "scale": {"domain": [-0.1, 0.1], "nice": false},
                  "axis": {"values": [-0.1, 0, 0.1], "offset": -12, "tickSize": 24, "grid": true, "labelPadding": 11, "format": ".1~f", "labelExpr": "replace(datum.label, '\u2212', '-')",
                           "title": "Voltage (V)", "titleFontSize": 19, "titleX": -119.5, "titleY": 63.5, "titleAngle": -90, "titleAlign": "center", "titleBaseline": "middle"}}
          }
        },
        {
          "data": {"name": "labels"},
          "transform": [{"filter": "datum.panel === 1"}],
          "mark": {"type": "text", "fontSize": 38},
          "encoding": {
            "x": {"datum": 1512, "type": "quantitative", "scale": {"domain": [1450, 1850], "nice": false},
                  "axis": {"orient": "bottom", "values": [1475, 1525, 1575, 1625, 1675, 1725, 1775, 1825], "offset": -6.5, "tickSize": 13, "labels": false, "title": null}},
            "y": {"datum": 0, "type": "quantitative", "scale": {"domain": [-0.1, 0.1], "nice": false},
                  "axis": {"orient": "left", "values": [-0.05, 0.05], "offset": -7, "tickSize": 10, "labels": false, "title": null}},
            "text": {"field": "label"}
          }
        }
      ],
      "resolve": {"axis": {"x": "independent", "y": "independent"}}
    },
    {
      "width": 1157, "height": 99,
      "layer": [
        {
          "data": {"name": "trace"},
          "transform": [{"filter": "datum.panel === 2"}],
          "mark": {"type": "line"},
          "encoding": {
            "x": {"field": "current", "type": "quantitative", "scale": {"domain": [1450, 1850], "nice": false},
                  "axis": {"values": [1450, 1500, 1550, 1600, 1650, 1700, 1750, 1800, 1850], "offset": -12, "tickSize": 24, "grid": true, "labels": false, "title": null}},
            "y": {"field": "voltage", "type": "quantitative", "scale": {"domain": [-0.1, 0.1], "nice": false},
                  "axis": {"values": [-0.1, 0, 0.1], "offset": -12, "tickSize": 24, "grid": true, "labelPadding": 11, "format": ".1~f", "labelExpr": "replace(datum.label, '\u2212', '-')",
                           "title": "Voltage (V)", "titleFontSize": 19, "titleX": -119.5, "titleY": 63.5, "titleAngle": -90, "titleAlign": "center", "titleBaseline": "middle"}}
          }
        },
        {
          "data": {"name": "labels"},
          "transform": [{"filter": "datum.panel === 2"}],
          "mark": {"type": "text", "fontSize": 38},
          "encoding": {
            "x": {"datum": 1512, "type": "quantitative", "scale": {"domain": [1450, 1850], "nice": false},
                  "axis": {"orient": "bottom", "values": [1475, 1525, 1575, 1625, 1675, 1725, 1775, 1825], "offset": -6.5, "tickSize": 13, "labels": false, "title": null}},
            "y": {"datum": 0, "type": "quantitative", "scale": {"domain": [-0.1, 0.1], "nice": false},
                  "axis": {"orient": "left", "values": [-0.05, 0.05], "offset": -7, "tickSize": 10, "labels": false, "title": null}},
            "text": {"field": "label"}
          }
        }
      ],
      "resolve": {"axis": {"x": "independent", "y": "independent"}}
    },
    {
      "width": 1157, "height": 99,
      "layer": [
        {
          "data": {"name": "trace"},
          "transform": [{"filter": "datum.panel === 3"}],
          "mark": {"type": "line"},
          "encoding": {
            "x": {"field": "current", "type": "quantitative", "scale": {"domain": [1450, 1850], "nice": false},
                  "axis": {"values": [1450, 1500, 1550, 1600, 1650, 1700, 1750, 1800, 1850], "offset": -12, "tickSize": 24, "grid": true, "labels": false, "title": null}},
            "y": {"field": "voltage", "type": "quantitative", "scale": {"domain": [-0.1, 0.1], "nice": false},
                  "axis": {"values": [-0.1, 0, 0.1], "offset": -12, "tickSize": 24, "grid": true, "labelPadding": 11, "format": ".1~f", "labelExpr": "replace(datum.label, '\u2212', '-')",
                           "title": "Voltage (V)", "titleFontSize": 19, "titleX": -119.5, "titleY": 63.5, "titleAngle": -90, "titleAlign": "center", "titleBaseline": "middle"}}
          }
        },
        {
          "data": {"name": "labels"},
          "transform": [{"filter": "datum.panel === 3"}],
          "mark": {"type": "text", "fontSize": 38},
          "encoding": {
            "x": {"datum": 1512, "type": "quantitative", "scale": {"domain": [1450, 1850], "nice": false},
                  "axis": {"orient": "bottom", "values": [1475, 1525, 1575, 1625, 1675, 1725, 1775, 1825], "offset": -6.5, "tickSize": 13, "labels": false, "title": null}},
            "y": {"datum": -0.039, "type": "quantitative", "scale": {"domain": [-0.1, 0.1], "nice": false},
                  "axis": {"orient": "left", "values": [-0.05, 0.05], "offset": -7, "tickSize": 10, "labels": false, "title": null}},
            "text": {"field": "label"}
          }
        }
      ],
      "resolve": {"axis": {"x": "independent", "y": "independent"}}
    },
    {
      "width": 1157, "height": 99,
      "layer": [
        {
          "data": {"name": "trace"},
          "transform": [{"filter": "datum.panel === 4"}],
          "mark": {"type": "line"},
          "encoding": {
            "x": {"field": "current", "type": "quantitative", "scale": {"domain": [1450, 1850], "nice": false},
                  "axis": {"values": [1450, 1500, 1550, 1600, 1650, 1700, 1750, 1800, 1850], "offset": -12, "tickSize": 24, "grid": true, "labels": false, "title": null}},
            "y": {"field": "voltage", "type": "quantitative", "scale": {"domain": [-0.1, 0.1], "nice": false},
                  "axis": {"values": [-0.1, 0, 0.1], "offset": -12, "tickSize": 24, "grid": true, "labelPadding": 11, "format": ".1~f", "labelExpr": "replace(datum.label, '\u2212', '-')",
                           "title": "Voltage (V)", "titleFontSize": 19, "titleX": -119.5, "titleY": 63.5, "titleAngle": -90, "titleAlign": "center", "titleBaseline": "middle"}}
          }
        },
        {
          "data": {"name": "labels"},
          "transform": [{"filter": "datum.panel === 4"}],
          "mark": {"type": "text", "fontSize": 37},
          "encoding": {
            "x": {"datum": 1513, "type": "quantitative", "scale": {"domain": [1450, 1850], "nice": false},
                  "axis": {"orient": "bottom", "values": [1475, 1525, 1575, 1625, 1675, 1725, 1775, 1825], "offset": -6.5, "tickSize": 13, "labels": false, "title": null}},
            "y": {"datum": -0.04, "type": "quantitative", "scale": {"domain": [-0.1, 0.1], "nice": false},
                  "axis": {"orient": "left", "values": [-0.05, 0.05], "offset": -7, "tickSize": 10, "labels": false, "title": null}},
            "text": {"field": "label"}
          }
        }
      ],
      "resolve": {"axis": {"x": "independent", "y": "independent"}}
    },
    {
      "width": 1157, "height": 99,
      "layer": [
        {
          "data": {"name": "trace"},
          "transform": [{"filter": "datum.panel === 5"}],
          "mark": {"type": "line"},
          "encoding": {
            "x": {"field": "current", "type": "quantitative", "scale": {"domain": [1450, 1850], "nice": false},
                  "axis": {"values": [1450, 1500, 1550, 1600, 1650, 1700, 1750, 1800, 1850], "offset": -12, "tickSize": 24, "grid": true, "labels": false, "title": null}},
            "y": {"field": "voltage", "type": "quantitative", "scale": {"domain": [-0.1, 0.1], "nice": false},
                  "axis": {"values": [-0.1, 0, 0.1], "offset": -12, "tickSize": 24, "grid": true, "labelPadding": 11, "format": ".1~f", "labelExpr": "replace(datum.label, '\u2212', '-')",
                           "title": "Voltage (V)", "titleFontSize": 19, "titleX": -119.5, "titleY": 63.5, "titleAngle": -90, "titleAlign": "center", "titleBaseline": "middle"}}
          }
        },
        {
          "data": {"name": "labels"},
          "transform": [{"filter": "datum.panel === 5"}],
          "mark": {"type": "text", "fontSize": 38},
          "encoding": {
            "x": {"datum": 1512, "type": "quantitative", "scale": {"domain": [1450, 1850], "nice": false},
                  "axis": {"orient": "bottom", "values": [1475, 1525, 1575, 1625, 1675, 1725, 1775, 1825], "offset": -6.5, "tickSize": 13, "labels": false, "title": null}},
            "y": {"datum": 0, "type": "quantitative", "scale": {"domain": [-0.1, 0.1], "nice": false},
                  "axis": {"orient": "left", "values": [-0.05, 0.05], "offset": -7, "tickSize": 10, "labels": false, "title": null}},
            "text": {"field": "label"}
          }
        }
      ],
      "resolve": {"axis": {"x": "independent", "y": "independent"}}
    },
    {
      "width": 1157, "height": 99,
      "layer": [
        {
          "data": {"name": "trace"},
          "transform": [{"filter": "datum.panel === 6"}],
          "mark": {"type": "line"},
          "encoding": {
            "x": {"field": "current", "type": "quantitative", "scale": {"domain": [1450, 1850], "nice": false},
                  "axis": {"values": [1450, 1500, 1550, 1600, 1650, 1700, 1750, 1800, 1850], "offset": -12, "tickSize": 24, "grid": true, "labels": false, "title": null}},
            "y": {"field": "voltage", "type": "quantitative", "scale": {"domain": [-0.1, 0.1], "nice": false},
                  "axis": {"values": [-0.1, 0, 0.1], "offset": -12, "tickSize": 24, "grid": true, "labelPadding": 11, "format": ".1~f", "labelExpr": "replace(datum.label, '\u2212', '-')",
                           "title": "Voltage (V)", "titleFontSize": 19, "titleX": -119.5, "titleY": 63.5, "titleAngle": -90, "titleAlign": "center", "titleBaseline": "middle"}}
          }
        },
        {
          "data": {"name": "labels"},
          "transform": [{"filter": "datum.panel === 6"}],
          "mark": {"type": "text", "fontSize": 42},
          "encoding": {
            "x": {"datum": 1512.8, "type": "quantitative", "scale": {"domain": [1450, 1850], "nice": false},
                  "axis": {"orient": "bottom", "values": [1475, 1525, 1575, 1625, 1675, 1725, 1775, 1825], "offset": -6.5, "tickSize": 13, "labels": false, "title": null}},
            "y": {"datum": -0.047, "type": "quantitative", "scale": {"domain": [-0.1, 0.1], "nice": false},
                  "axis": {"orient": "left", "values": [-0.05, 0.05], "offset": -7, "tickSize": 10, "labels": false, "title": null}},
            "text": {"field": "label"}
          }
        }
      ],
      "resolve": {"axis": {"x": "independent", "y": "independent"}}
    },
    {
      "width": 1157, "height": 99,
      "layer": [
        {
          "data": {"name": "trace"},
          "transform": [{"filter": "datum.panel === 7"}],
          "mark": {"type": "line"},
          "encoding": {
            "x": {"field": "current", "type": "quantitative", "scale": {"domain": [1450, 1850], "nice": false},
                  "axis": {"values": [1450, 1500, 1550, 1600, 1650, 1700, 1750, 1800, 1850], "offset": -12, "tickSize": 24, "grid": true, "labels": true, "labelPadding": 8, "format": "d",
                           "title": "Current (kA)", "titleFontSize": 27, "titleX": 1155, "titleY": 94.5, "titleAlign": "right", "titleBaseline": "alphabetic"}},
            "y": {"field": "voltage", "type": "quantitative", "scale": {"domain": [-0.1, 0.1], "nice": false},
                  "axis": {"values": [-0.1, 0, 0.1], "offset": -12, "tickSize": 24, "grid": true, "labelPadding": 11, "format": ".1~f", "labelExpr": "replace(datum.label, '\u2212', '-')",
                           "title": "Voltage (V)", "titleFontSize": 19, "titleX": -119.5, "titleY": 63.5, "titleAngle": -90, "titleAlign": "center", "titleBaseline": "middle"}}
          }
        },
        {
          "data": {"name": "labels"},
          "transform": [{"filter": "datum.panel === 7"}],
          "mark": {"type": "text", "fontSize": 43},
          "encoding": {
            "x": {"datum": 1512.2, "type": "quantitative", "scale": {"domain": [1450, 1850], "nice": false},
                  "axis": {"orient": "bottom", "values": [1475, 1525, 1575, 1625, 1675, 1725, 1775, 1825], "offset": -6.5, "tickSize": 13, "labels": false, "title": null}},
            "y": {"datum": -0.021, "type": "quantitative", "scale": {"domain": [-0.1, 0.1], "nice": false},
                  "axis": {"orient": "left", "values": [-0.05, 0.05], "offset": -7, "tickSize": 10, "labels": false, "title": null}},
            "text": {"field": "label"}
          }
        }
      ],
      "resolve": {"axis": {"x": "independent", "y": "independent"}}
    }
  ]
}
